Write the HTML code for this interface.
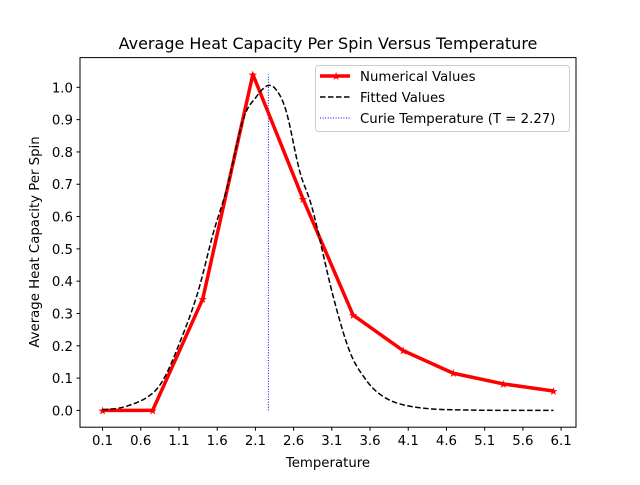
<!DOCTYPE html>
<html><head><meta charset="utf-8"><style>
body{margin:0;background:#fff}
svg{font-family:"DejaVu Sans","Liberation Sans",sans-serif}
</style></head><body>
<svg id="chart" width="640" height="480">
<rect width="640" height="480" fill="#fff"/>
<text x="328" y="49" font-size="16" text-anchor="middle">Average Heat Capacity Per Spin Versus Temperature</text>
<g id="plot"></g>
<rect x="80" y="57.6" width="496" height="369.6" fill="none" stroke="#000" stroke-width="1"/>
<text x="328" y="467" font-size="13.3" text-anchor="middle">Temperature</text>
<text transform="translate(39,242) rotate(-90)" font-size="13.3" text-anchor="middle">Average Heat Capacity Per Spin</text>
<g>
<rect x="315.5" y="65.5" width="254" height="66" rx="3" fill="#fff" fill-opacity="0.8" stroke="#ccc"/>
<line x1="320" y1="76" x2="350" y2="76" stroke="red" stroke-width="3.5"/>
<text x="336" y="80" font-size="11" fill="red" text-anchor="middle">★</text>
<text x="360" y="81" font-size="13.3">Numerical Values</text>
<line x1="320" y1="97" x2="350" y2="97" stroke="#000" stroke-width="1.5" stroke-dasharray="5.5,2.5"/>
<text x="360" y="102" font-size="13.3">Fitted Values</text>
<line x1="320" y1="118" x2="350" y2="118" stroke="blue" stroke-width="1" stroke-dasharray="1,1.6"/>
<text x="360" y="123" font-size="13.3">Curie Temperature (T = 2.27)</text>
</g>
</svg>
<script>
const numT = [0.1,0.7556,1.4111,2.0667,2.7222,3.3778,4.0333,4.6889,5.3444,6.0];
const numC = [0.0,0.0,0.345,1.04,0.655,0.295,0.185,0.115,0.082,0.06];
const fitT = [0.1,0.37,0.68,0.89,1.11,1.34,1.55,1.73,1.94,2.11,2.26,2.38,2.51,2.68,2.85,3.11,3.33,3.53,3.73,3.99,4.38,4.91,5.5,6.0];
const fitC = [0.002,0.01,0.04,0.093,0.21,0.36,0.55,0.69,0.9,0.97,1.005,0.99,0.92,0.74,0.62,0.36,0.185,0.1,0.05,0.02,0.005,0.001,0,0];
const curieT = 2.27;
const xTicks = [0.1,0.6,1.1,1.6,2.1,2.6,3.1,3.6,4.1,4.6,5.1,5.6,6.1];
const yTicks = [0.0,0.1,0.2,0.3,0.4,0.5,0.6,0.7,0.8,0.9,1.0];
const xMin=-0.195,xMax=6.295,yMin=-0.052,yMax=1.092;
const L=80,R=576,T=57.6,B=427.2;
function sx(v){return L+(v-xMin)/(xMax-xMin)*(R-L);}
function sy(v){return B-(v-yMin)/(yMax-yMin)*(B-T);}
const NS="http://www.w3.org/2000/svg";
const g=document.getElementById('plot');
function mk(tag,attrs){const e=document.createElementNS(NS,tag);for(const k in attrs)e.setAttribute(k,attrs[k]);g.appendChild(e);return e;}
xTicks.forEach(v=>{
 mk('line',{x1:sx(v),x2:sx(v),y1:B,y2:B+3.5,stroke:'#000'});
 const t=mk('text',{x:sx(v),y:B+18,'font-size':13.3,'text-anchor':'middle'});t.textContent=v.toFixed(1);
 
 
});
yTicks.forEach(v=>{
 mk('line',{x1:L-3.5,x2:L,y1:sy(v),y2:sy(v),stroke:'#000'});
 const t=mk('text',{x:L-7,y:sy(v)+5,'font-size':13.3,'text-anchor':'end'});t.textContent=v.toFixed(1);
 
 
});
const cl=mk('line',{x1:sx(curieT),x2:sx(curieT),y1:sy(0),y2:sy(1.04),stroke:'blue','stroke-width':1,'stroke-dasharray':'1,1.6'});


const np=mk('polyline',{points:numT.map((t,i)=>sx(t)+','+sy(numC[i])).join(' '),fill:'none',stroke:'red','stroke-width':3.5,'stroke-linejoin':'round'});


numT.forEach((t,i)=>{
 const s=mk('text',{x:sx(t),y:sy(numC[i])+4,'font-size':11,fill:'red','text-anchor':'middle'});s.textContent='★';
 
 
});
let d='';
const P=fitT.map((t,i)=>[sx(t),sy(fitC[i])]);
d='M'+P[0][0]+','+P[0][1];
for(let i=0;i<P.length-1;i++){
 const p0=P[Math.max(0,i-1)],p1=P[i],p2=P[i+1],p3=P[Math.min(P.length-1,i+2)];
 d+=' C'+(p1[0]+(p2[0]-p0[0])/6)+','+(p1[1]+(p2[1]-p0[1])/6)+' '+(p2[0]-(p3[0]-p1[0])/6)+','+(p2[1]-(p3[1]-p1[1])/6)+' '+p2[0]+','+p2[1];
}
const fp=mk('path',{d:d,fill:'none',stroke:'#000','stroke-width':1.5,'stroke-dasharray':'5.5,2.5'});


</script>
</body></html>
